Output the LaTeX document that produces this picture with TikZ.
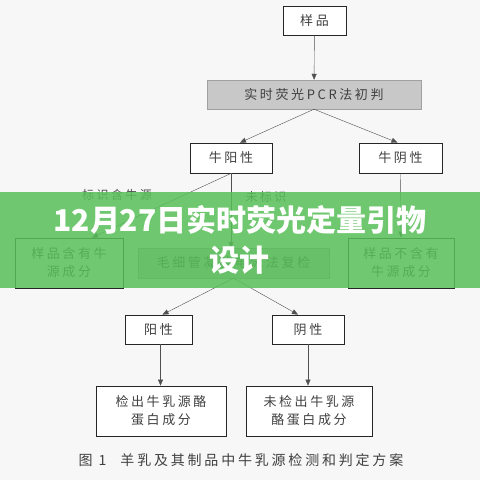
\documentclass[tikz,border=0pt]{standalone}
\usepackage{fontspec}
\usepackage{tikz}
\usetikzlibrary{arrows.meta}
\newfontfamily\cjk[LetterSpace=20]{Noto Sans CJK SC}
\newfontfamily\cjktitle{Noto Sans CJK SC}
\definecolor{boxgray}{RGB}{200,200,200}
\definecolor{linegray}{RGB}{80,80,80}
\definecolor{bannergreen}{RGB}{88,192,88}
\tikzset{
    plain-box/.style = {draw=black!85, fill=white, thick, rectangle, font=\cjk\fontsize{13}{18}\selectfont, text=black!75, align=center, inner sep=0pt},
    gray-box/.style = {plain-box, draw=boxgray!80!black, fill=boxgray, thin},
    flow-arrow/.style = {draw=linegray, -{Triangle[length=6pt,width=5pt]}},
    side-label/.style = {font=\cjk\fontsize{12}{14}\selectfont, text=black!70},
    banner-title/.style = {font=\cjktitle\bfseries\fontsize{30}{40}\selectfont, text=white, align=center},
}

\begin{document}
\begin{tikzpicture}[x=1pt, y=-1pt]
\useasboundingbox (0,0) rectangle (480,480);
\fill[white!97!black] (0,0) rectangle (480,480);

\node [plain-box, minimum width=63pt, minimum height=29pt] (sample) at (314.5,20.5) {样品};
\node [gray-box, minimum width=214pt, minimum height=29pt] (pcr) at (314,94.5) {实时荧光PCR法初判};
\node [plain-box, minimum width=82pt, minimum height=30pt] (cowpos) at (231,158) {牛阳性};
\node [plain-box, minimum width=83pt, minimum height=30pt] (cowneg) at (400.5,158) {牛阴性};
\node [plain-box, minimum width=108pt, minimum height=50pt] (has) at (69,263) {样品含有牛\\源成分};
\node [gray-box, minimum width=191pt, minimum height=30pt] (ce) at (233.5,263) {毛细管凝胶电泳法复检};
\node [plain-box, minimum width=106pt, minimum height=50pt] (hasnot) at (401,263) {样品不含有\\牛源成分};
\node [plain-box, minimum width=67pt, minimum height=29pt] (pos) at (158.5,329.5) {阳性};
\node [plain-box, minimum width=72pt, minimum height=29pt] (neg) at (308,329.5) {阴性};
\node [plain-box, minimum width=130pt, minimum height=50pt] (found) at (161,411) {检出牛乳源酪\\蛋白成分};
\node [plain-box, minimum width=126pt, minimum height=50pt] (notfound) at (309,411) {未检出牛乳源\\酪蛋白成分};

\node [side-label] (marklbl) at (117,195) {标识含牛源};
\node [side-label] (nomarklbl) at (266,197) {未标识};
\node [font=\cjk\fontsize{14}{16}\selectfont, text=black!75] (caption) at (241,460) {图 1\quad 羊乳及其制品中牛乳源检测和判定方案};

\draw [flow-arrow] (sample) -- (pcr);
\draw [flow-arrow] (pcr.south) -- ([xshift=9pt]cowpos.north);
\draw [flow-arrow] (pcr.south) -- ([xshift=-3pt]cowneg.north);
\draw [flow-arrow] (cowpos.south) -- ([xshift=23pt]has.north);
\draw [flow-arrow] (cowpos.south) -- (cowpos.south |- ce.north);
\draw [flow-arrow] (cowneg.south) -- (hasnot.north);
\draw [flow-arrow] (ce.south) -- ([xshift=4pt]pos.north);
\draw [flow-arrow] (ce.south) -- ([xshift=-10pt]neg.north);
\draw [flow-arrow] ([xshift=2pt]pos.south) -- ([xshift=2pt]pos.south |- found.north);
\draw [flow-arrow] (neg.south) -- (neg.south |- notfound.north);

% green banner on top
\fill[bannergreen, opacity=0.85] (0,192) rectangle (480,288);
\node [banner-title] (title) at (240,240) {12月27日实时荧光定量引物\\设计};
\end{tikzpicture}
\end{document}
